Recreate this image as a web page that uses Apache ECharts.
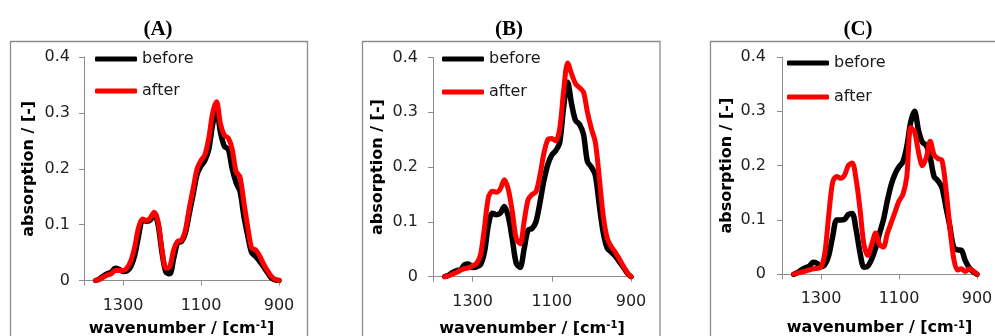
<!DOCTYPE html>
<html>
<head>
<meta charset="utf-8">
<script src="https://cdn.jsdelivr.net/npm/echarts@6/dist/echarts.min.js"></script>
<style>html,body{margin:0;padding:0;background:#fff;}#chart{width:995px;height:336px;}</style>
</head>
<body>
<div id="chart"></div>
<script>
// wavenumber grid (cm-1), shared by all panels
const wavenumbers = [1370,1360,1350,1340,1330,1320,1310,1300,1290,1280,
  1270,1260,1250,1240,1230,1220,1210,1200,1190,1180,
  1170,1160,1150,1140,1130,1120,1110,1100,1090,1080,
  1070,1060,1050,1040,1030,1020,1010,1000,990,980,
  970,960,950,940,930,920,910,900];

const beforeA = [0,0.003,0.008,0.012,0.015,0.022,0.02,0.016,0.017,0.025,
  0.045,0.08,0.108,0.106,0.108,0.12,0.1,0.05,0.015,0.012,
  0.04,0.068,0.07,0.085,0.12,0.155,0.19,0.205,0.215,0.235,
  0.28,0.305,0.265,0.24,0.235,0.2,0.175,0.16,0.115,0.08,
  0.05,0.043,0.035,0.025,0.015,0.005,0.001,0];
const afterA = [0,0.002,0.006,0.01,0.012,0.018,0.018,0.018,0.022,0.035,
  0.06,0.095,0.11,0.107,0.112,0.122,0.105,0.055,0.022,0.025,
  0.055,0.07,0.072,0.09,0.13,0.165,0.2,0.215,0.225,0.255,
  0.3,0.32,0.28,0.26,0.255,0.235,0.195,0.185,0.14,0.095,
  0.058,0.055,0.045,0.03,0.018,0.008,0.002,0];

const beforeB = [0,0.003,0.008,0.011,0.013,0.022,0.023,0.017,0.018,0.022,
  0.045,0.095,0.116,0.113,0.116,0.128,0.11,0.07,0.025,0.017,
  0.05,0.085,0.088,0.1,0.135,0.175,0.205,0.222,0.23,0.245,
  0.31,0.355,0.315,0.285,0.278,0.26,0.21,0.2,0.185,0.13,
  0.08,0.052,0.045,0.038,0.028,0.018,0.007,0];
const afterB = [0,0.002,0.005,0.008,0.012,0.015,0.016,0.02,0.024,0.04,
  0.09,0.145,0.156,0.154,0.16,0.177,0.16,0.12,0.07,0.06,
  0.1,0.14,0.15,0.155,0.185,0.225,0.25,0.252,0.248,0.27,
  0.34,0.39,0.37,0.352,0.345,0.337,0.3,0.27,0.245,0.18,
  0.11,0.07,0.055,0.045,0.033,0.02,0.008,0];

const beforeC = [0,0.003,0.008,0.012,0.015,0.022,0.02,0.014,0.018,0.035,
  0.07,0.1,0.1,0.101,0.11,0.112,0.082,0.04,0.013,0.015,
  0.028,0.048,0.075,0.1,0.135,0.165,0.185,0.198,0.207,0.235,
  0.28,0.3,0.265,0.243,0.237,0.215,0.18,0.172,0.16,0.125,
  0.09,0.05,0.045,0.044,0.025,0.012,0.005,0];
const afterC = [0,0.002,0.004,0.006,0.008,0.01,0.011,0.013,0.04,0.11,
  0.17,0.18,0.177,0.182,0.2,0.205,0.175,0.12,0.055,0.035,
  0.055,0.076,0.055,0.05,0.075,0.095,0.115,0.135,0.147,0.18,
  0.27,0.262,0.225,0.2,0.215,0.245,0.22,0.213,0.21,0.16,
  0.09,0.03,0.008,0.01,0.005,0.01,0.006,0];

const yTicks = [0, 0.1, 0.2, 0.3, 0.4];
const xTickLabels = [1300, 1100, 900];
const panelTitles = ['(A)', '(B)', '(C)'];
const seriesNames = ['before', 'after'];
const panelData = [[beforeA, afterA], [beforeB, afterB], [beforeC, afterC]];

const grids = [
  {left: 84, top: 57, width: 195, height: 223.5, outerBoundsMode: 'none', containLabel: false},
  {left: 433, top: 57.5, width: 198, height: 219.2, outerBoundsMode: 'none', containLabel: false},
  {left: 782, top: 57, width: 195, height: 217.3, outerBoundsMode: 'none', containLabel: false}
];
const titleX = [158, 509, 858];
const xNameGap = [40, 44, 46];
const yLabelMargin = [14, 15, 16];
const legendPos = [{left: 95, top: 51, gap: 16}, {left: 442, top: 51, gap: 17}, {left: 787, top: 55, gap: 18}];
const frames = [{x: 10.5, w: 297}, {x: 362.5, w: 297.5}, {x: 710.5, w: 300}];

const axisGray = '#8c8c8c';
const labelFont = 'DejaVu Sans';

const option = {
  animation: false,
  backgroundColor: '#ffffff',
  title: panelTitles.map((t, i) => ({
    text: t, left: titleX[i], top: 19, textAlign: 'center', padding: 0,
    textStyle: {fontFamily: 'Liberation Serif', fontWeight: 'bold', fontSize: 21, color: '#000'}
  })),
  graphic: frames.map(f => ({
    type: 'rect', silent: true, z: -1,
    shape: {x: f.x, y: 41.5, width: f.w, height: 320},
    style: {fill: 'none', stroke: axisGray, lineWidth: 1.3}
  })),
  legend: legendPos.map(p => ({
    data: seriesNames, orient: 'vertical', left: p.left, top: p.top, padding: 0,
    icon: 'roundRect', itemWidth: 42, itemHeight: 5, itemGap: p.gap, selectedMode: false,
    textStyle: {fontFamily: labelFont, fontSize: 16, color: '#1a1a1a'}
  })),
  grid: grids,
  xAxis: grids.map((g, i) => ({
    type: 'value', gridIndex: i, inverse: true, min: 900, max: 1400, interval: 200,
    name: 'wavenumber / [cm{sup|-1}]', nameLocation: 'middle', nameGap: xNameGap[i],
    nameTextStyle: {fontFamily: labelFont, fontWeight: 'bold', fontSize: 16, color: '#000',
      rich: {sup: {fontFamily: labelFont, fontWeight: 'bold', fontSize: 10, color: '#000', verticalAlign: 'top'}}},
    axisLine: {show: true, lineStyle: {color: axisGray, width: 1}},
    axisTick: {show: true, length: 5, lineStyle: {color: axisGray}},
    splitLine: {show: false},
    axisLabel: {margin: 17, fontFamily: labelFont, fontSize: 16, color: '#222',
      formatter: v => (xTickLabels.indexOf(v) >= 0 ? String(v) : '')}
  })),
  yAxis: grids.map((g, i) => ({
    type: 'value', gridIndex: i, min: yTicks[0], max: yTicks[yTicks.length - 1], interval: 0.1,
    name: 'absorption / [-]', nameLocation: 'middle', nameGap: 47,
    nameTextStyle: {fontFamily: labelFont, fontWeight: 'bold', fontSize: 16, color: '#000'},
    axisLine: {show: true, lineStyle: {color: axisGray, width: 1}},
    axisTick: {show: true, length: 5, lineStyle: {color: axisGray}},
    splitLine: {show: false},
    axisLabel: {margin: yLabelMargin[i], fontFamily: labelFont, fontSize: 16, color: '#222',
      formatter: v => String(Math.round(v * 10) / 10)}
  })),
  series: []
};

panelData.forEach((pair, i) => {
  pair.forEach((vals, k) => {
    const color = k === 0 ? '#000000' : '#ff0000';
    option.series.push({
      name: seriesNames[k], type: 'line', xAxisIndex: i, yAxisIndex: i,
      data: wavenumbers.map((w, j) => [w, vals[j]]),
      symbol: 'none', showSymbol: false, smooth: 0.3, color: color,
      itemStyle: {color: color},
      lineStyle: {color: color, width: k === 0 ? 5.5 : 5, cap: 'round', join: 'round'},
      z: 2 + k
    });
  });
});

const chart = echarts.init(document.getElementById('chart'), null, {renderer: 'canvas'});
chart.setOption(option);
</script>
</body>
</html>
